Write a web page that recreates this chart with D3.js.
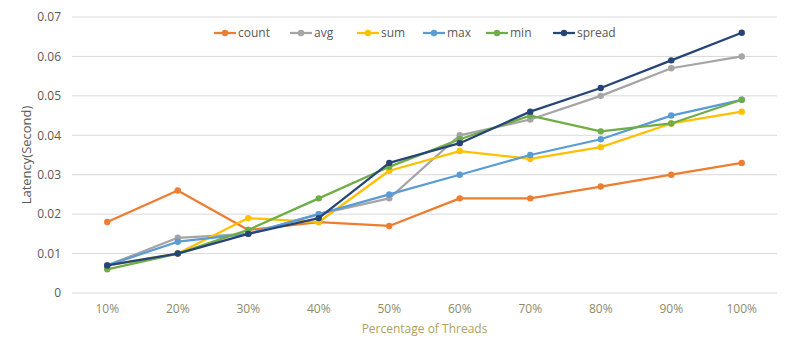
<!DOCTYPE html>
<html><head><meta charset="utf-8">
<script src="https://cdn.jsdelivr.net/npm/d3@7"></script>
<style>body{margin:0;background:#fff;}svg{display:block;font-family:"Open Sans","Liberation Sans",sans-serif;}</style>
</head><body><svg id="c" width="800" height="349"></svg>
<script>
const categories = ["10%","20%","30%","40%","50%","60%","70%","80%","90%","100%"];
const count  = [0.018,0.026,0.016,0.018,0.017,0.024,0.024,0.027,0.030,0.033];
const avg    = [0.007,0.014,0.015,0.020,0.024,0.040,0.044,0.050,0.057,0.060];
const sum    = [0.007,0.010,0.019,0.018,0.031,0.036,0.034,0.037,0.043,0.046];
const max    = [0.007,0.013,0.015,0.020,0.025,0.030,0.035,0.039,0.045,0.049];
const min    = [0.006,0.010,0.016,0.024,0.032,0.039,0.045,0.041,0.043,0.049];
const spread = [0.007,0.010,0.015,0.019,0.033,0.038,0.046,0.052,0.059,0.066];
const seriesNames = ["count","avg","sum","max","min","spread"];
const colors = ["#ED7D31","#A5A5A5","#FFC000","#5B9BD5","#70AD47","#264478"];
const yTicks = [0,0.01,0.02,0.03,0.04,0.05,0.06,0.07];
const yTitle = "Latency(Second)";
const xTitle = "Percentage of Threads";

const series = [count,avg,sum,max,min,spread].map((v,i)=>({name:seriesNames[i],color:colors[i],values:v}));
const svg = d3.select("#c");
const L=72,R=777,T=17,B=293;
const x = d3.scaleBand().domain(categories).range([L,R]);
const y = d3.scaleLinear().domain([0,0.07]).range([B,T]);

// gridlines
svg.append("g").selectAll("line").data(yTicks).join("line")
  .attr("x1",L).attr("x2",R).attr("y1",d=>y(d)).attr("y2",d=>y(d))
  .attr("stroke","#d9d9d9").attr("stroke-width",1);

// y axis labels
const ya = svg.append("g").attr("transform",`translate(${L-8},0)`)
  .call(d3.axisLeft(y).tickValues(yTicks).tickSize(0).tickFormat(d=>d===0?"0":d3.format(".2f")(d)));
ya.select(".domain").remove();
ya.selectAll("text").attr("fill","#595959").attr("font-size",12).attr("font-family","Open Sans, Liberation Sans, sans-serif");

// x axis labels
const xa = svg.append("g").attr("transform",`translate(0,${B+8})`)
  .call(d3.axisBottom(x).tickSize(0));
xa.select(".domain").remove();
xa.selectAll("text").attr("fill","#8c8c6a").attr("font-size",12).attr("font-family","Open Sans, Liberation Sans, sans-serif");

// titles
svg.append("text").attr("transform",`translate(31,${(T+B)/2}) rotate(-90)`)
  .attr("text-anchor","middle").attr("fill","#595959").attr("font-size",13).text(yTitle);
svg.append("text").attr("x",(L+R)/2).attr("y",333).attr("text-anchor","middle")
  .attr("fill","#b0a060").attr("font-size",12).text(xTitle);

// lines
const line = d3.line().x((d,i)=>x(categories[i])+x.bandwidth()/2).y(d=>y(d));
const g = svg.append("g");
series.forEach(s=>{
  g.append("path").attr("d",line(s.values)).attr("fill","none")
   .attr("stroke",s.color).attr("stroke-width",2.25).attr("stroke-linejoin","round");
  g.append("g").selectAll("circle").data(s.values).join("circle")
   .attr("cx",(d,i)=>x(categories[i])+x.bandwidth()/2).attr("cy",d=>y(d))
   .attr("r",3.2).attr("fill",s.color);
});

// legend
const legX=[214,290,357,423,486,553];
const lg = svg.append("g");
series.forEach((s,i)=>{
  const gx = lg.append("g").attr("transform",`translate(${legX[i]},33)`);
  gx.append("line").attr("x1",0).attr("x2",22).attr("stroke",s.color).attr("stroke-width",2.25);
  gx.append("circle").attr("cx",11).attr("r",3.2).attr("fill",s.color);
  gx.append("text").attr("x",24).attr("dy","0.35em").attr("fill","#595959").attr("font-size",12).text(s.name);
});
</script></body></html>
